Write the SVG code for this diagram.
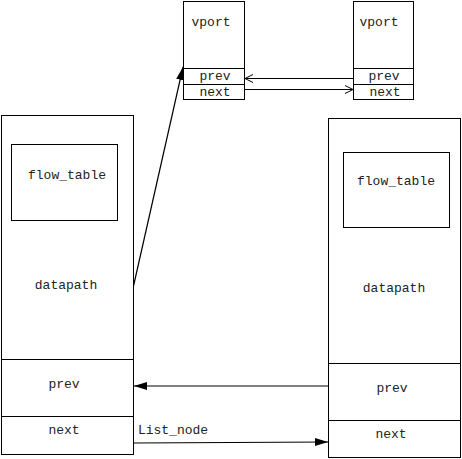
<svg xmlns="http://www.w3.org/2000/svg" width="462" height="459" viewBox="0 0 462 459">
<defs>
<style>
rect,line.d{fill:none;stroke:#000;stroke-width:1}
text{font-family:"Liberation Mono","DejaVu Sans Mono",monospace;font-size:13px;fill:#222;text-anchor:middle}
.c{stroke:#000;stroke-width:1.2;fill:none}
</style>
<marker id="open" markerWidth="10" markerHeight="10" refX="9" refY="5" orient="auto" markerUnits="userSpaceOnUse">
<path d="M1,1 L9,5 L1,9" fill="none" stroke="#000" stroke-width="1"/>
</marker>
<marker id="fill" markerWidth="14" markerHeight="10" refX="13" refY="5" orient="auto" markerUnits="userSpaceOnUse">
<path d="M0,1 L13,5 L0,9 Z" fill="#000"/>
</marker>
</defs>
<rect width="462" height="459" fill="#fff" style="stroke:none"/>
<g id="vport1">
<rect x="183.5" y="1.5" width="61" height="98"/>
<line class="d" x1="183.5" y1="68.5" x2="244.5" y2="68.5"/>
<line class="d" x1="183.5" y1="84.5" x2="244.5" y2="84.5"/>
<text x="211" y="26">vport</text>
<text x="215" y="80">prev</text>
<text x="215" y="96">next</text>
</g>
<g id="vport2">
<rect x="353.5" y="1.5" width="60" height="98"/>
<line class="d" x1="353.5" y1="68.5" x2="413.5" y2="68.5"/>
<line class="d" x1="353.5" y1="84.5" x2="413.5" y2="84.5"/>
<text x="379" y="26">vport</text>
<text x="384" y="80">prev</text>
<text x="385" y="96">next</text>
</g>
<g id="datapath1">
<rect x="1.5" y="115.5" width="132" height="339"/>
<line class="d" x1="1.5" y1="359.5" x2="133.5" y2="359.5"/>
<line class="d" x1="1.5" y1="416.5" x2="133.5" y2="416.5"/>
<rect id="flow_table1" x="11.5" y="144.5" width="106" height="76"/>
<text x="67" y="179">flow_table</text>
<text x="66" y="289">datapath</text>
<text x="64" y="388">prev</text>
<text x="64" y="434">next</text>
</g>
<g id="datapath2">
<rect x="328.5" y="118.5" width="132" height="339"/>
<line class="d" x1="328.5" y1="363.5" x2="460.5" y2="363.5"/>
<line class="d" x1="328.5" y1="420.5" x2="460.5" y2="420.5"/>
<rect id="flow_table2" x="343.5" y="152.5" width="106" height="75"/>
<text x="396" y="185">flow_table</text>
<text x="394" y="292">datapath</text>
<text x="392" y="392">prev</text>
<text x="391" y="438">next</text>
</g>
<g id="connectors">
<line class="c" x1="353" y1="78.5" x2="245" y2="78.5" marker-end="url(#open)"/>
<line class="c" x1="245" y1="89.5" x2="353" y2="89.5" marker-end="url(#open)"/>
<line class="c" x1="133.5" y1="286" x2="183" y2="67" marker-end="url(#fill)"/>
<line class="c" x1="328" y1="386" x2="134" y2="386" marker-end="url(#fill)"/>
<line class="c" x1="134" y1="443" x2="328" y2="442" marker-end="url(#fill)"/>
<text x="173" y="434">List_node</text>
</g>
</svg>
